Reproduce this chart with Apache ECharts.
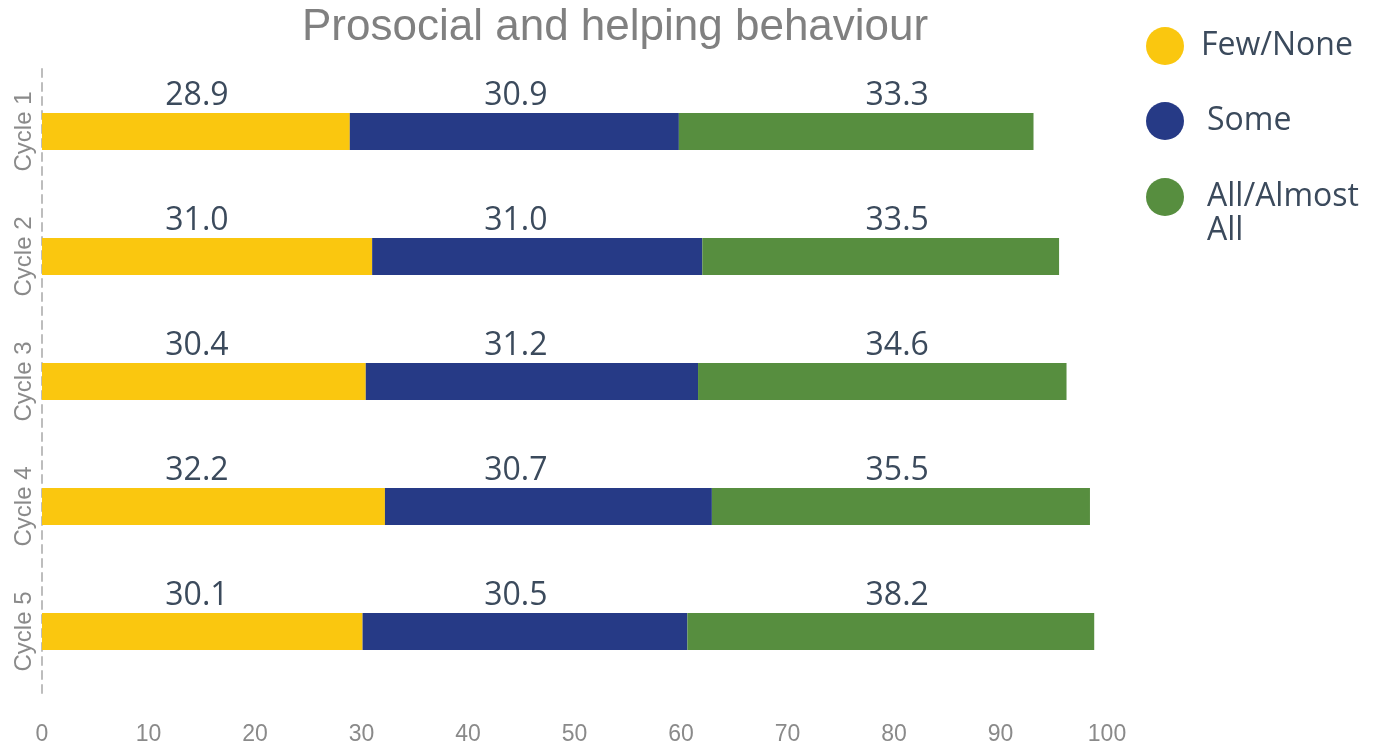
<!DOCTYPE html>
<html>
<head>
<meta charset="utf-8">
<script src="https://cdn.jsdelivr.net/npm/echarts@6/dist/echarts.min.js"></script>
<style>
  html, body { margin: 0; padding: 0; background: #ffffff; }
  #chart { width: 1386px; height: 747px; }
</style>
</head>
<body>
<div id="chart"></div>
<script>
// Survey cycles and the share of responses in each group (percent)
const cycles = ['Cycle 1', 'Cycle 2', 'Cycle 3', 'Cycle 4', 'Cycle 5'];
const fewNone = [28.9, 31.0, 30.4, 32.2, 30.1];
const some = [30.9, 31.0, 31.2, 30.7, 30.5];
const allAlmostAll = [33.3, 33.5, 34.6, 35.5, 38.2];
const xTicks = [0, 10, 20, 30, 40, 50, 60, 70, 80, 90, 100];

const seriesNames = ['Few/None', 'Some', 'All/Almost All'];
const seriesColors = ['#FAC70F', '#263A86', '#578E3F'];
const seriesData = [fewNone, some, allAlmostAll];

// Value labels sit in fixed columns (in axis units) above every bar
const labelColumns = [14.55, 44.5, 80.3];

const valueFont = '"Open Sans", "Noto Sans", sans-serif';
const axisFont = '"Liberation Sans", Arial, sans-serif';
const textColor = '#3B4A5C';

const chart = echarts.init(document.getElementById('chart'), null, { renderer: 'canvas' });

const barSeries = seriesNames.map((name, i) => ({
  name: name,
  type: 'bar',
  stack: 'total',
  barWidth: 37,
  data: seriesData[i],
  itemStyle: { color: seriesColors[i] },
  emphasis: { disabled: true }
}));

// Invisible anchors that carry each group's value label
const labelSeries = seriesNames.map((name, i) => ({
  name: name + ' values',
  type: 'scatter',
  symbolSize: 0,
  silent: true,
  z: 5,
  itemStyle: { opacity: 1 },
  encode: { x: 0, y: 1 },
  data: cycles.map((c, j) => [labelColumns[i], c, seriesData[i][j]]),
  label: {
    show: true,
    position: 'top',
    distance: 20,
    opacity: 1,
    formatter: p => Number(p.value[2]).toFixed(1),
    fontFamily: valueFont,
    fontSize: 32,
    lineHeight: 32,
    color: textColor
  }
}));

const legendText = {
  fontFamily: valueFont,
  fontSize: 32,
  lineHeight: 34,
  color: textColor
};

chart.setOption({
  backgroundColor: '#ffffff',
  animation: false,
  title: {
    text: 'Prosocial and helping behaviour',
    left: 297,
    top: 1,
    textStyle: {
      fontFamily: axisFont,
      fontWeight: 'normal',
      fontSize: 44,
      color: '#808080'
    }
  },
  legend: [
    {
      orient: 'vertical',
      left: 1141,
      top: 22,
      icon: 'circle',
      itemWidth: 38,
      itemHeight: 38,
      itemGap: 37,
      selectedMode: false,
      textStyle: legendText,
      data: [
        { name: 'Few/None', textStyle: { padding: [0, 0, 0, 12] } },
        { name: 'Some', textStyle: { padding: [0, 0, 0, 18] } }
      ]
    },
    {
      orient: 'vertical',
      left: 1141,
      top: 141,
      icon: 'circle',
      itemWidth: 38,
      itemHeight: 38,
      selectedMode: false,
      // leading blank line keeps the first text line level with the marker
      formatter: name => name === 'All/Almost All' ? '\nAll/Almost\nAll' : name,
      textStyle: legendText,
      data: [
        { name: 'All/Almost All', textStyle: { padding: [0, 0, 0, 18] } }
      ]
    }
  ],
  grid: {
    left: 42,
    right: 279,
    top: 69,
    height: 625,
    containLabel: false
  },
  xAxis: {
    type: 'value',
    min: 0,
    max: 100,
    interval: 10,
    axisLine: { show: false },
    axisTick: { show: false },
    splitLine: { show: false },
    axisLabel: {
      margin: 29,
      fontFamily: axisFont,
      fontSize: 23,
      color: '#8A8A8A',
      formatter: v => xTicks.includes(v) ? String(v) : ''
    }
  },
  yAxis: {
    type: 'category',
    data: cycles,
    inverse: true,
    axisLine: {
      show: true,
      lineStyle: { color: '#BDBDBD', width: 2, type: [8, 6] }
    },
    axisTick: { show: false },
    splitLine: { show: false },
    axisLabel: {
      rotate: 90,
      margin: 6,
      fontFamily: axisFont,
      fontSize: 24,
      color: '#8A8A8A'
    }
  },
  series: barSeries.concat(labelSeries)
});
</script>
</body>
</html>
